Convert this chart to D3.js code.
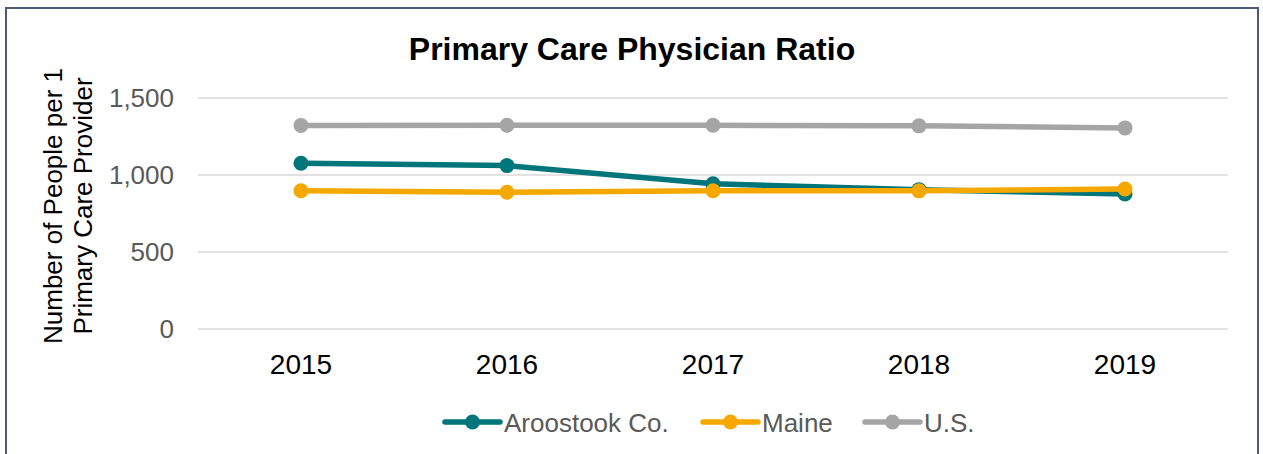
<!DOCTYPE html>
<html>
<head>
<meta charset="utf-8">
<script src="https://cdn.jsdelivr.net/npm/d3@7"></script>
<style>
  body { margin: 0; background: #fff; }
  svg { display: block; font-family: "Liberation Sans", Arial, sans-serif; }
</style>
</head>
<body>
<div id="chart"></div>
<script>
const years = ["2015", "2016", "2017", "2018", "2019"]
const aroostook = [1076, 1061, 943, 905, 877]
const maine = [898, 888, 898, 897, 909]
const us = [1322, 1323, 1323, 1319, 1306]
const yTicks = [0, 500, 1000, 1500]
const seriesNames = ["Aroostook Co.", "Maine", "U.S."]

const colors = ["#00767b", "#f5a800", "#a5a5a5"]
const width = 1263
const height = 454
const plot = { left: 198, right: 1228, top: 98, bottom: 329 }

const series = [aroostook, maine, us].map((vals, i) => ({
  name: seriesNames[i],
  color: colors[i],
  values: vals.map((v, j) => ({ year: years[j], v })),
}))

const svg = d3
  .select("#chart")
  .append("svg")
  .attr("width", width)
  .attr("height", height)

svg
  .append("rect")
  .attr("x", 6)
  .attr("y", 8)
  .attr("width", 1252)
  .attr("height", 460)
  .attr("fill", "#fff")
  .attr("stroke", "#4b5b79")
  .attr("stroke-width", 2)

const x = d3
  .scaleBand()
  .domain(years)
  .range([plot.left, plot.right])
const y = d3
  .scaleLinear()
  .domain([0, 1500])
  .range([plot.bottom, plot.top])

svg
  .append("text")
  .attr("x", 632)
  .attr("y", 60)
  .attr("text-anchor", "middle")
  .attr("font-size", "32px")
  .attr("font-weight", "bold")
  .attr("fill", "#000")
  .text("Primary Care Physician Ratio")

// grid
svg
  .append("g")
  .selectAll("line")
  .data(yTicks)
  .enter()
  .append("line")
  .attr("x1", plot.left)
  .attr("x2", plot.right)
  .attr("y1", d => y(d))
  .attr("y2", d => y(d))
  .attr("stroke", "#d9d9d9")
  .attr("stroke-width", 1.5)

const yAxis = svg
  .append("g")
  .attr("transform", "translate(174,0)")
  .call(
    d3
      .axisLeft(y)
      .tickValues(yTicks)
      .tickSize(0)
      .tickPadding(0)
      .tickFormat(d3.format(","))
  )
yAxis.select(".domain").remove()
yAxis
  .selectAll("text")
  .attr("font-size", "26px")
  .attr("fill", "#595959")
  .attr("font-family", "Liberation Sans, Arial, sans-serif")

const xAxis = svg
  .append("g")
  .attr("transform", "translate(0,0)")
  .call(d3.axisBottom(x).tickSize(0))
xAxis.select(".domain").remove()
xAxis
  .selectAll("text")
  .attr("y", 374)
  .attr("dy", 0)
  .attr("font-size", "28px")
  .attr("fill", "#000")
  .attr("font-family", "Liberation Sans, Arial, sans-serif")

// y title
const yt = svg
  .append("text")
  .attr("transform", "translate(62,206) rotate(-90)")
  .attr("text-anchor", "middle")
  .attr("font-size", "26px")
  .attr("fill", "#000")
yt.append("tspan").attr("x", 0).attr("y", 0).text("Number of People per 1")
yt.append("tspan").attr("x", 0).attr("y", 30).text("Primary Care Provider")

const line = d3
  .line()
  .x(d => x(d.year) + x.bandwidth() / 2)
  .y(d => y(d.v))

const g = svg
  .append("g")
  .selectAll("g")
  .data(series)
  .enter()
  .append("g")
g.append("path")
  .attr("d", d => line(d.values))
  .attr("fill", "none")
  .attr("stroke", d => d.color)
  .attr("stroke-width", 5.5)
  .attr("stroke-linejoin", "round")
g.selectAll("circle")
  .data(d => d.values.map(p => ({ ...p, color: d.color })))
  .enter()
  .append("circle")
  .attr("cx", d => x(d.year) + x.bandwidth() / 2)
  .attr("cy", d => y(d.v))
  .attr("r", 7.5)
  .attr("fill", d => d.color)

// legend
const legendX = [445, 703, 865]
const leg = svg
  .append("g")
  .selectAll("g")
  .data(series)
  .enter()
  .append("g")
  .attr("transform", (d, i) => `translate(${legendX[i]},422)`)
leg
  .append("line")
  .attr("x1", 0)
  .attr("x2", 55)
  .attr("stroke", d => d.color)
  .attr("stroke-width", 5.5)
  .attr("stroke-linecap", "round")
leg
  .append("circle")
  .attr("cx", 27.5)
  .attr("r", 7.5)
  .attr("fill", d => d.color)
leg
  .append("text")
  .attr("x", 59)
  .attr("y", 9.5)
  .attr("font-size", "26px")
  .attr("fill", "#595959")
  .text(d => d.name)
</script>
</body>
</html>
